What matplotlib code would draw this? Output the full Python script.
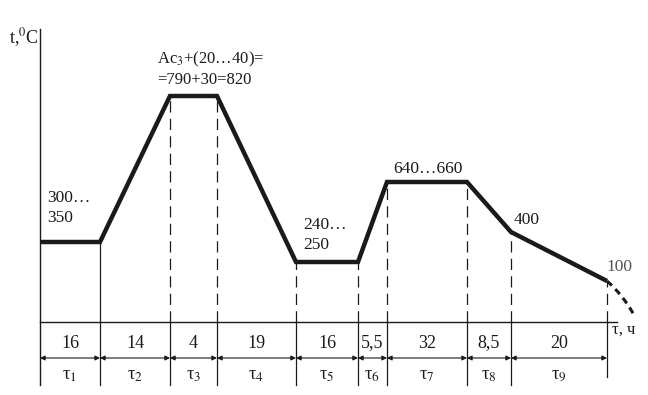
import matplotlib
matplotlib.use("Agg")
import matplotlib.pyplot as plt
import numpy as np
from matplotlib.path import Path
from matplotlib.patches import PathPatch

# ---- data ----
durations = ["16", "14", "4", "19", "16", "5,5", "32", "8,5", "20"]
tau_labels = ["τ$_{%d}$" % i for i in range(1, 10)]
# schematic drawn width of each stage (diagram is not to scale)
seg_width = [60, 70, 47, 79, 62, 29, 80, 44, 96]
# schematic drawn temperature level at each stage boundary
boundary_level = [80, 80, 226, 226, 60, 60, 140, 140, 90, 41]
temp_labels = ["300…\n350", "Ac$_3$+(20…40)=\n=790+30=820", "240…\n250",
               "640…660", "400", "100"]

plt.rcParams['font.family'] = ['Liberation Serif', 'DejaVu Serif']
plt.rcParams['mathtext.fontset'] = 'stix'

fig = plt.figure(figsize=(6.48, 3.95), dpi=100)
ax = fig.add_axes([0, 0, 1, 1])
ax.set_xlim(-40, 608)
ax.set_ylim(-73, 322)
ax.axis('off')

bx = np.concatenate([[0], np.cumsum(seg_width)])
ink = '#1a1a1a'

# temperature profile
ax.plot(bx, boundary_level, color=ink, lw=3.2, solid_joinstyle='miter',
        solid_capstyle='butt', zorder=3)

# axes
ax.plot([0, 0], [-63, 293], color=ink, lw=1.0)
ax.plot([0, bx[-1] + 10], [0, 0], color=ink, lw=1.0)

# boundary lines
for i in range(1, len(bx)):
    lo = -55 if i == len(bx) - 1 else -63
    ax.plot([bx[i], bx[i]], [0, lo], color=ink, lw=0.9)
    if i == 1:
        ax.plot([bx[i], bx[i]], [0, boundary_level[i]], color=ink, lw=0.9)
    else:
        ax.plot([bx[i], bx[i]], [0, boundary_level[i]], color=ink, lw=0.9,
                linestyle=(0, (9, 5)))

# dashed cooling tail
x0, y0 = bx[-1], boundary_level[-1]
tail = Path([(x0, y0), (x0 + 16, y0 - 14), (x0 + 27, y0 - 34)],
            [Path.MOVETO, Path.CURVE3, Path.CURVE3])
ax.add_patch(PathPatch(tail, fill=False, color=ink, lw=2.2,
                       linestyle=(0, (2.2, 1.6))))

# duration labels, arrows, tau labels
for i in range(len(seg_width)):
    xm = (bx[i] + bx[i + 1]) / 2
    ax.text(xm, -21, durations[i], ha='center', va='center', fontsize=13,
            color=ink)
    ax.annotate('', xy=(bx[i], -36), xytext=(bx[i + 1], -36),
                arrowprops=dict(arrowstyle='<|-|>', color=ink, lw=0.8,
                                mutation_scale=7, shrinkA=0, shrinkB=0))
    ax.text(xm, -53, tau_labels[i], ha='center', va='center', fontsize=13.5,
            color=ink)

# temperature labels
ax.text(7, 114, temp_labels[0], ha='left', va='center', fontsize=12.5,
        color=ink, linespacing=1.35)
ax.text(157 - 40, 253, temp_labels[1], ha='left', va='center', fontsize=12,
        color=ink, linespacing=1.3)
ax.text(303 - 40, 87, temp_labels[2], ha='left', va='center', fontsize=12.5,
        color=ink, linespacing=1.35)
ax.text(393 - 40, 153, temp_labels[3], ha='left', va='center', fontsize=12.5,
        color=ink)
ax.text(514 - 40, 102, temp_labels[4], ha='left', va='center', fontsize=12.5,
        color=ink)
ax.text(606 - 40, 55, temp_labels[5], ha='left', va='center', fontsize=12.5,
        color='#555555')

# axis titles
ax.text(-31, 284, r"t,$^{0}$C", ha='left', va='center', fontsize=13, color=ink)
ax.text(572, -8, "τ, ч", ha='left', va='center', fontsize=12, color=ink)

fig.savefig("out.png", dpi=100)
